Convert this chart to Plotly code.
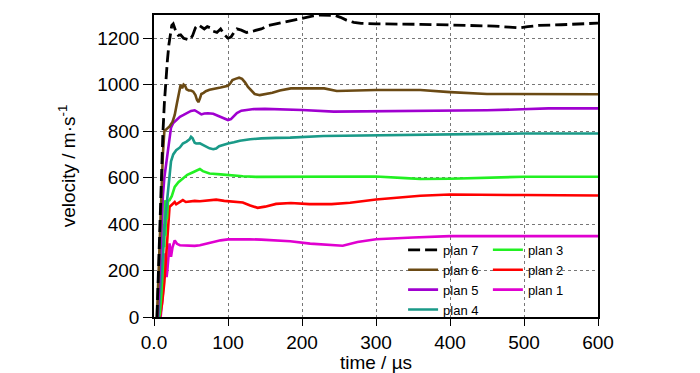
import plotly.graph_objects as go

# ---------------- data ----------------
t_p1 = [9,12,14.5,16,17,18,19,21,23,25,28,31,35,40,45,55,62,70,80,90,100,115,129,145,161,184,211,240,255,275,300,350,400,450,500,550,600]
v_p1 = [0,100,274,220,172,200,250,317,259,300,330,315,309,308,309,306,309,315,323,330,334,336,335,333,331,326,316,309,307,323,335,342,348,348,349,348,348]

t_p2 = [8,11,14,16,17,18,19,20,21,23,26,28,30,33,36,39,43,48,55,62,70,75,84,95,110,120,130,140,150,165,185,210,240,265,300,330,360,400,450,500,600]
v_p2 = [0,60,150,240,274,330,388,440,474,480,489,495,485,492,500,503,495,497,500,498,500,503,505,500,497,493,480,470,475,487,491,486,486,492,506,515,522,527,527,525,523]

t_p3 = [7,8,10,12,13,14,14.5,15.5,16.5,17.5,19,21,24,28,33,39,45,52,58,62,66,75,90,100,120,138,170,200,250,300,340,360,400,450,500,550,600]
v_p3 = [0,16,100,215,400,300,503,350,480,420,500,503,520,560,580,597,612,622,630,637,628,618,614,611,606,603,603,604,604,605,598,594,595,600,604,604,604]

t_p4 = [6,9,12,15,17,19,21,23,26,30,35,39,44,48,50,52,55,57,62,68,75,80,84,88,92,96,100,108,116,130,145,165,184,229,280,332,398,452,500,550,600]
v_p4 = [0,150,300,420,480,540,620,670,700,718,730,747,755,765,776,770,750,747,748,738,726,722,725,735,740,745,747,752,759,765,769,771,772,779,781,783,787,790,790,790,790]

t_p5 = [5,8,10,12,14,16,18,19,21,23,26,30,35,40,45,50,55,60,64,68,73,80,85,90,95,100,104,108,112,118,125,135,150,170,200,243,300,350,398,450,497,533,570,600]
v_p5 = [0,250,420,520,600,650,700,720,780,815,835,848,862,870,880,887,890,878,872,876,877,875,868,860,852,848,852,865,878,888,892,895,896,895,891,884,886,887,887,890,894,898,898,898]

t_p6 = [4,6,8,10,12,14,17,21,25,28,31,34,36,38,40,42,44,47,50,53,56,58,60,62,64,67,70,75,80,85,90,95,100,103,106,110,115,119,123,127,131,136,143,150,160,170,185,200,230,247,270,300,360,400,450,500,550,600]
v_p6 = [0,200,390,550,700,800,810,820,840,870,920,970,1000,985,1000,995,980,975,975,970,955,935,925,940,960,965,972,978,980,985,988,990,995,1005,1020,1025,1030,1025,1010,990,975,960,955,958,965,975,984,985,984,973,976,977,977,968,960,959,959,959]

t_p7 = [4,6,8,10,12,14,16,18,20,22,24,26,28,30,33,36,40,44,48,52,56,60,64,68,72,76,80,85,90,95,100,104,108,112,118,125,135,145,155,165,175,185,195,205,215,225,235,245,252,260,270,280,300,330,360,400,430,460,480,495,505,520,550,580,600]
v_p7 = [0,200,450,650,790,920,1030,1100,1170,1225,1255,1262,1245,1225,1212,1215,1200,1195,1192,1210,1245,1258,1250,1240,1250,1245,1230,1225,1240,1215,1200,1205,1225,1240,1235,1225,1232,1240,1255,1262,1268,1275,1282,1290,1296,1300,1300,1298,1290,1278,1268,1264,1262,1262,1260,1257,1255,1252,1248,1245,1250,1255,1258,1262,1265]

x_tickvals = [0, 100, 200, 300, 400, 500, 600]
x_ticktext = ["0.0", "100", "200", "300", "400", "500", "600"]
y_tickvals = [0, 200, 400, 600, 800, 1000, 1200]

series = [
    ("plan 1", t_p1, v_p1, "#E000D0", "solid", "legend2"),
    ("plan 2", t_p2, v_p2, "#FF0000", "solid", "legend2"),
    ("plan 3", t_p3, v_p3, "#22F022", "solid", "legend2"),
    ("plan 4", t_p4, v_p4, "#1A9A88", "solid", "legend"),
    ("plan 5", t_p5, v_p5, "#A000D0", "solid", "legend"),
    ("plan 6", t_p6, v_p6, "#6B4A14", "solid", "legend"),
    ("plan 7", t_p7, v_p7, "#000000", "12px,5px", "legend"),
]

FONT = "Liberation Sans, Arial, sans-serif"

fig = go.Figure()
for name, t, v, col, dash, leg in series:
    fig.add_trace(go.Scatter(
        x=t, y=v, mode="lines", name=name, legend=leg,
        line=dict(color=col, width=2.6 if name != "plan 7" else 2.8, dash=dash),
    ))

axis_common = dict(
    showline=True, linecolor="black", linewidth=1.5, mirror=True,
    ticks="outside", tickcolor="black", tickwidth=1.2,
    showgrid=True, gridcolor="#777777", gridwidth=1, griddash="dot",
    zeroline=False, automargin=False,
    tickfont=dict(family=FONT, size=19, color="black"),
)

fig.update_xaxes(
    range=[0, 600], tickvals=x_tickvals, ticktext=x_ticktext, ticklen=7,
    title=dict(text="time / µs", font=dict(family=FONT, size=19, color="black"), standoff=1),
    **axis_common,
)
fig.update_yaxes(
    range=[0, 1300], tickvals=y_tickvals, ticklen=9,
    title=dict(text="velocity / m·s<sup>-1</sup>", font=dict(family=FONT, size=19, color="black"), standoff=17),
    **axis_common,
)

legend_style = dict(
    font=dict(family=FONT, size=13, color="black"),
    bgcolor="rgba(0,0,0,0)", borderwidth=0, traceorder="reversed",
    yanchor="top", xanchor="left", orientation="v",
    tracegroupgap=0, itemwidth=30,
)
# page body has an 8px default margin, so the figure is shrunk by 8px on each axis
fig.update_layout(
    width=692, height=365,
    margin=dict(l=146, r=102, t=7, b=56),
    plot_bgcolor="white", paper_bgcolor="white",
    font=dict(family=FONT, color="black"),
    showlegend=True,
    legend=dict(x=0.561, y=0.272, **legend_style),
    legend2=dict(x=0.752, y=0.272, **legend_style),
)

fig.write_html("out.html")
